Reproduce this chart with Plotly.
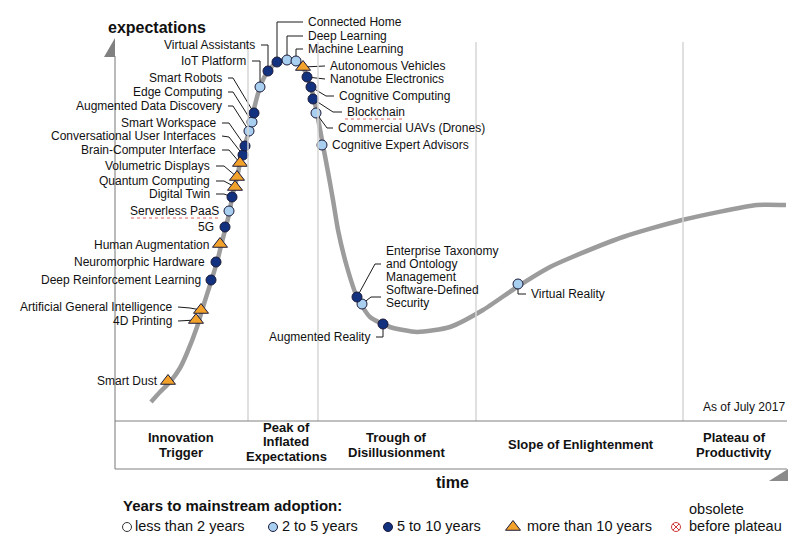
import plotly.graph_objects as go

# ---------------- DATA (time -> x, expectations -> y, screen units) -------------
CURVE_T = [151, 160, 170, 180, 187, 197, 203, 210, 217, 223, 230, 232, 237, 240, 244, 249, 253, 260,
           268, 277, 287, 296, 303, 307, 311, 314, 317, 322, 328, 333, 338, 347, 357, 370, 390, 417,
           450, 483, 517, 550, 570, 623, 682, 757, 786]
CURVE_E = [402, 392, 382, 368, 353, 327, 307, 285, 262, 238, 210, 197, 178, 163, 148, 131, 113, 87,
           71, 62, 59.5, 61, 67, 77, 87, 99, 113, 140, 172, 200, 230, 267, 297, 317, 327, 332,
           327, 310, 287, 267, 258, 237, 220, 205, 205]

TECH_NAMES = ["Smart Dust", "4D Printing", "Artificial General Intelligence", "Deep Reinforcement Learning",
              "Neuromorphic Hardware", "Human Augmentation", "5G", "Serverless PaaS", "Digital Twin",
              "Quantum Computing", "Volumetric Displays", "Brain-Computer Interface",
              "Conversational User Interfaces", "Smart Workspace", "Augmented Data Discovery",
              "Edge Computing", "Smart Robots", "IoT Platform", "Virtual Assistants", "Connected Home",
              "Deep Learning", "Machine Learning", "Autonomous Vehicles", "Nanotube Electronics",
              "Cognitive Computing", "Blockchain", "Commercial UAVs (Drones)", "Cognitive Expert Advisors",
              "Enterprise Taxonomy and Ontology Management", "Software-Defined Security",
              "Augmented Reality", "Virtual Reality"]
TECH_T = [168, 196, 201, 211, 216, 220, 225, 229, 232, 235, 237, 240, 243, 245, 249, 252, 254, 260, 268,
          277, 287, 296, 303, 307, 311, 313, 316, 322, 357, 362, 383, 518]
TECH_E = [381, 320, 310, 280, 262, 244, 227, 211, 197, 187, 177, 163, 155, 146, 131, 122, 113, 87, 71,
          62, 60, 61, 67, 77, 87, 99, 113, 145, 297, 304, 324, 284]
TECH_CAT = [">10", ">10", ">10", "5-10", "5-10", ">10", "5-10", "2-5", "5-10", ">10", ">10", ">10",
            "5-10", "5-10", "2-5", "2-5", "5-10", "2-5", "5-10", "5-10", "2-5", "2-5", ">10", "5-10",
            "5-10", "5-10", "2-5", "2-5", "5-10", "2-5", "5-10", "2-5"]

PHASES = [["Innovation", "Trigger"], ["Peak of", "Inflated", "Expectations"],
          ["Trough of", "Disillusionment"], ["Slope of Enlightenment"], ["Plateau of", "Productivity"]]
LEGEND_TITLE = "Years to mainstream adoption:"
LEGEND_ITEMS = ["less than 2 years", "2 to 5 years", "5 to 10 years", "more than 10 years", "before plateau"]

# ---------------- LAYOUT / STYLE ----------------
FONT = "Arial, Liberation Sans, sans-serif"
DARK = "#12327f"
LIGHT = "#a9cff0"
ORANGE = "#f2a12a"
EDGE = "#1a1a3a"
CURVE_COL = "#9c9c9c"

CAT_STYLE = {
    "2-5": dict(symbol="circle", color=LIGHT, size=10),
    "5-10": dict(symbol="circle", color=DARK, size=10),
    ">10": dict(symbol="triangle-up", color=ORANGE, size=13),
}

# label placement: name -> (x, y, side, connector elbow points)
LABELS = {
    "Smart Dust": (160, 381, "r", None),
    "4D Printing": (174, 321, "r", [(178, 321)]),
    "Artificial General Intelligence": (174, 307, "r", [(178, 307), (190, 308)]),
    "Deep Reinforcement Learning": (203, 280, "r", None),
    "Neuromorphic Hardware": (207, 262, "r", None),
    "Human Augmentation": (211, 245, "r", None),
    "5G": (216, 227, "r", None),
    "Serverless PaaS": (221, 211, "r", None),
    "Digital Twin": (212, 194, "r", [(216, 194), (224, 194)]),
    "Quantum Computing": (212, 181, "r", [(216, 181), (224, 181)]),
    "Volumetric Displays": (212, 166, "r", [(216, 166), (224, 166)]),
    "Brain-Computer Interface": (218, 150, "r", [(222, 150), (229, 150)]),
    "Conversational User Interfaces": (218, 136, "r", [(222, 136), (229, 137)]),
    "Smart Workspace": (218, 123, "r", [(222, 123), (229, 123)]),
    "Augmented Data Discovery": (224, 106, "r", [(228, 106), (233, 106)]),
    "Edge Computing": (224, 92, "r", [(228, 92), (233, 92)]),
    "Smart Robots": (224, 78, "r", [(228, 78), (233, 78)]),
    "IoT Platform": (248, 61, "r", [(252, 61), (260, 61)]),
    "Virtual Assistants": (257, 45, "r", [(261, 45), (268, 45)]),
    "Connected Home": (306, 22, "l", [(303, 22), (277, 22)]),
    "Deep Learning": (306, 36, "l", [(303, 36), (287, 36)]),
    "Machine Learning": (306, 49, "l", [(303, 49), (296, 49)]),
    "Autonomous Vehicles": (328, 66, "l", [(325, 66)]),
    "Nanotube Electronics": (328, 79, "l", [(325, 79)]),
    "Cognitive Computing": (337, 96, "l", [(334, 96), (326, 96)]),
    "Blockchain": (345, 112, "l", [(342, 112), (333, 112)]),
    "Commercial UAVs (Drones)": (336, 128, "l", [(333, 128), (327, 128)]),
    "Cognitive Expert Advisors": (330, 145, "l", None),
    "Enterprise Taxonomy and Ontology Management": (384, 250.5, "l", [(381, 264), (375, 264)]),
    "Software-Defined Security": (384, 290, "l", [(381, 297), (371, 297)]),
    "Augmented Reality": (372, 337, "r", [(376, 337), (383, 337)]),
    "Virtual Reality": (529, 294, "l", [(526, 294), (518, 294)]),
}
LABEL_LINES = {
    "Enterprise Taxonomy and Ontology Management": ["Enterprise Taxonomy", "and Ontology", "Management"],
    "Software-Defined Security": ["Software-Defined", "Security"],
}
LINE_H = 13.2
PAGE_OFFSET = 8  # the html body margin; axis ranges absorb it so units match page pixels

fig = go.Figure()
shapes = []
ann = []

# phase separators
for sx in [248, 318, 476, 683]:
    shapes.append(dict(type="line", x0=sx, x1=sx, y0=42, y1=421, line=dict(color="#d6d6d6", width=1.5)))
# axes
shapes.append(dict(type="line", x0=115, x1=115, y0=56, y1=469, line=dict(color="#777777", width=1)))
shapes.append(dict(type="path", path="M 104 57 L 115 38 L 115 57 Z", fillcolor="#808080",
                   line=dict(width=0)))
shapes.append(dict(type="line", x0=115, x1=787, y0=421, y1=421, line=dict(color="#808080", width=1)))
shapes.append(dict(type="line", x0=115, x1=787, y0=469, y1=469, line=dict(color="#808080", width=1)))
shapes.append(dict(type="path", path="M 769 481 L 788 469 L 788 481 Z", fillcolor="#8a8a8a",
                   line=dict(width=0)))
# spell-check squiggles seen in the source
shapes.append(dict(type="line", x0=131, x1=220, y0=218, y1=218,
                   line=dict(color="#e06060", width=1, dash="dot")))
shapes.append(dict(type="line", x0=345, x1=403, y0=119, y1=119,
                   line=dict(color="#e06060", width=1, dash="dot")))

# curve
fig.add_trace(go.Scatter(x=CURVE_T, y=CURVE_E, mode="lines", line=dict(color=CURVE_COL, width=4.5,
                         shape="spline", smoothing=0.6), hoverinfo="skip", showlegend=False))

# connectors
cx, cy = [], []
for name, t, e in zip(TECH_NAMES, TECH_T, TECH_E):
    lx, ly, side, elbow = LABELS[name]
    if elbow:
        for px, py in elbow:
            cx.append(px)
            cy.append(py)
        cx.append(t)
        cy.append(e)
        cx.append(None)
        cy.append(None)
fig.add_trace(go.Scatter(x=cx, y=cy, mode="lines", line=dict(color="#1a1a1a", width=1),
                         hoverinfo="skip", showlegend=False))

# markers per category
for cat in ["2-5", "5-10", ">10"]:
    xs = [t for t, c in zip(TECH_T, TECH_CAT) if c == cat]
    ys = [e for e, c in zip(TECH_E, TECH_CAT) if c == cat]
    st = CAT_STYLE[cat]
    fig.add_trace(go.Scatter(x=xs, y=ys, mode="markers", showlegend=False, hoverinfo="skip",
                             marker=dict(symbol=st["symbol"], color=st["color"], size=st["size"],
                                         line=dict(color=EDGE, width=1))))

# labels
for name in TECH_NAMES:
    lx, ly, side, elbow = LABELS[name]
    lines = LABEL_LINES.get(name, [name])
    for i, txt in enumerate(lines):
        ann.append(dict(x=lx, y=ly + i * LINE_H, text=txt, showarrow=False,
                        xanchor="right" if side == "r" else "left", yanchor="middle",
                        font=dict(family=FONT, size=12, color="#111111")))

# titles
ann.append(dict(x=106, y=27, text="<b>expectations</b>", showarrow=False, xanchor="left", yanchor="middle",
                font=dict(family=FONT, size=16, color="#111111")))
ann.append(dict(x=452, y=482, text="<b>time</b>", showarrow=False, xanchor="center", yanchor="middle",
                font=dict(family=FONT, size=16, color="#111111")))
ann.append(dict(x=787, y=407, text="As of July 2017", showarrow=False, xanchor="right", yanchor="middle",
                font=dict(family=FONT, size=12, color="#111111")))

# phase names
PH_X = [181, 286, 396, 581, 734]
PH_Y0 = [437.5, 427, 437.5, 444, 437.5]
for px, py0, lines in zip(PH_X, PH_Y0, PHASES):
    for i, txt in enumerate(lines):
        ann.append(dict(x=px, y=py0 + i * 14.5, text="<b>%s</b>" % txt, showarrow=False,
                        xanchor="center", yanchor="middle", font=dict(family=FONT, size=13, color="#111111")))

# legend
ann.append(dict(x=121, y=505, text="<b>%s</b>" % LEGEND_TITLE, showarrow=False, xanchor="left",
                yanchor="middle", font=dict(family=FONT, size=15, color="#111111")))
LEG_MX = [127, 273, 388, 513, 676]
LEG_TX = [133, 280, 395, 525, 687]
LEG_STY = [dict(symbol="circle-open", color="#333333", size=9, line=dict(color="#333333", width=1)),
           dict(symbol="circle", color=LIGHT, size=9, line=dict(color=EDGE, width=1)),
           dict(symbol="circle", color=DARK, size=9, line=dict(color=EDGE, width=1)),
           dict(symbol="triangle-up", color=ORANGE, size=13, line=dict(color=EDGE, width=1)),
           dict(symbol="circle-x-open", color="#d03838", size=9, line=dict(color="#d03838", width=1))]
for mx, tx, sty, txt in zip(LEG_MX, LEG_TX, LEG_STY, LEGEND_ITEMS):
    fig.add_trace(go.Scatter(x=[mx], y=[527], mode="markers", marker=sty, showlegend=False, hoverinfo="skip"))
    ann.append(dict(x=tx, y=526, text=txt, showarrow=False, xanchor="left", yanchor="middle",
                    font=dict(family=FONT, size=14.5, color="#111111")))
ann.append(dict(x=687, y=509, text="obsolete", showarrow=False, xanchor="left", yanchor="middle",
                font=dict(family=FONT, size=14.5, color="#111111")))

fig.update_layout(width=800, height=550, autosize=False, margin=dict(l=0, r=0, t=0, b=0),
                  paper_bgcolor="white", plot_bgcolor="white", shapes=shapes, annotations=ann,
                  xaxis=dict(range=[PAGE_OFFSET, 800 + PAGE_OFFSET], visible=False, fixedrange=True),
                  yaxis=dict(range=[550 + PAGE_OFFSET, PAGE_OFFSET], visible=False, fixedrange=True),
                  showlegend=False)
fig.write_html("out.html")
